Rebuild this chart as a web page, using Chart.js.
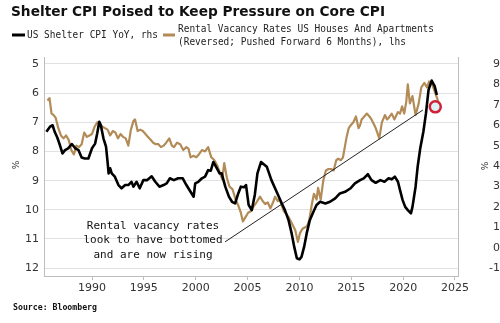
<!DOCTYPE html>
<html>
<head>
<meta charset="utf-8">
<script src="https://cdn.jsdelivr.net/npm/chart.js@4/dist/chart.umd.min.js"></script>
<style>
  body { margin: 0; background: #fff; }
  #wrap { width: 500px; height: 323px; position: relative; }
</style>
</head>
<body>
<div id="wrap"><canvas id="shelterChart"></canvas></div>
<script>
// rental vacancy rate, reversed and pushed forward 6 months (lhs)
const vacancyYears = [
  1985.7, 1985.9, 1986.1, 1986.3, 1986.5, 1986.75, 1987.0, 1987.25, 1987.5, 1987.75,
  1988.0, 1988.25, 1988.5, 1988.75, 1989.0, 1989.25, 1989.5, 1989.75, 1990.0, 1990.25,
  1990.5, 1990.75, 1991.0, 1991.25, 1991.5, 1991.75, 1992.0, 1992.25, 1992.5, 1992.75,
  1993.0, 1993.25, 1993.5, 1993.75, 1994.0, 1994.15, 1994.4, 1994.65, 1994.9, 1995.15,
  1995.4, 1995.65, 1995.9, 1996.15, 1996.4, 1996.65, 1996.9, 1997.15, 1997.45, 1997.7,
  1997.9, 1998.2, 1998.5, 1998.8, 1999.1, 1999.3, 1999.5, 1999.8, 2000.05, 2000.3,
  2000.6, 2000.9, 2001.2, 2001.5, 2001.8, 2002.1, 2002.35, 2002.55, 2002.75, 2003.0,
  2003.25, 2003.55, 2003.85, 2004.1, 2004.35, 2004.55, 2004.8, 2005.05, 2005.3, 2005.55,
  2005.85, 2006.2, 2006.45, 2006.7, 2006.95, 2007.2, 2007.45, 2007.65, 2007.9, 2008.1,
  2008.3, 2008.5, 2008.75, 2008.95, 2009.25, 2009.6, 2009.85, 2010.05, 2010.3, 2010.55,
  2010.75, 2010.95, 2011.2, 2011.4, 2011.65, 2011.8, 2012.05, 2012.3, 2012.55, 2012.8,
  2013.05, 2013.3, 2013.55, 2013.75, 2014.0, 2014.2, 2014.4, 2014.55, 2014.75, 2014.95,
  2015.2, 2015.45, 2015.7, 2015.85, 2016.0, 2016.25, 2016.5, 2016.75, 2016.95, 2017.3,
  2017.55, 2017.7, 2017.95, 2018.25, 2018.45, 2018.6, 2018.9, 2019.15, 2019.5, 2019.7,
  2019.9, 2020.1, 2020.3, 2020.45, 2020.65, 2020.9, 2021.2, 2021.5, 2021.75, 2022.05,
  2022.3, 2022.5, 2022.8, 2023.1, 2023.3, 2023.5
];
const vacancyRates = [
  6.25, 6.17, 6.7, 6.75, 6.85, 7.2, 7.45, 7.55, 7.45, 7.6,
  7.95, 8.1, 7.8, 7.85, 7.75, 7.35, 7.5, 7.45, 7.4, 7.15,
  7.0, 7.05, 7.15, 7.2, 7.25, 7.45, 7.3, 7.35, 7.55, 7.4,
  7.5, 7.55, 7.8, 7.25, 6.95, 6.9, 7.3, 7.25, 7.3, 7.4,
  7.5, 7.6, 7.7, 7.75, 7.75, 7.85, 7.8, 7.7, 7.55, 7.8,
  7.85, 7.7, 7.75, 7.95, 7.85, 7.9, 8.2, 8.15, 8.2, 8.1,
  7.95, 8.0, 7.85, 8.2, 8.3, 8.5, 8.75, 8.95, 8.4, 8.9,
  9.2, 9.3, 9.65, 9.85, 10.1, 10.4, 10.25, 10.1, 10.05, 9.9,
  9.75, 9.55, 9.7, 9.8, 9.75, 9.95, 9.75, 9.55, 9.7, 9.65,
  9.85, 10.05, 10.15, 10.25, 10.45, 10.7, 11.1, 10.8, 10.65, 10.6,
  10.55, 10.35, 9.8, 9.45, 9.65, 9.25, 9.65, 9.0, 8.65, 8.6,
  8.6, 8.65, 8.3, 8.25, 8.3, 8.2, 7.8, 7.5, 7.2, 7.1,
  7.0, 6.8, 7.2, 7.1, 6.9, 6.8, 6.7, 6.8, 6.9, 7.15,
  7.4, 7.55, 7.0, 6.75, 6.9, 6.85, 6.7, 6.9, 6.65, 6.7,
  6.45, 6.7, 6.3, 5.7, 6.35, 6.1, 6.75, 6.35, 5.8, 5.65,
  5.8, 5.6, 5.7, 6.0, 6.2, 6.45
];

// US shelter CPI, year over year % (rhs)
const shelterYears = [
  1985.6, 1985.95, 1986.2, 1986.4, 1986.65, 1986.9, 1987.15, 1987.4, 1987.7, 1988.05,
  1988.4, 1988.7, 1989.0, 1989.3, 1989.65, 1990.0, 1990.3, 1990.5, 1990.7, 1990.85,
  1991.1, 1991.35, 1991.5, 1991.6, 1991.75, 1991.9, 1992.2, 1992.55, 1992.85, 1993.2,
  1993.5, 1993.8, 1994.0, 1994.3, 1994.6, 1994.95, 1995.3, 1995.75, 1996.1, 1996.5,
  1996.9, 1997.2, 1997.5, 1997.9, 1998.3, 1998.75, 1999.1, 1999.5, 1999.8, 1999.95,
  2000.25, 2000.6, 2000.9, 2001.2, 2001.45, 2001.7, 2001.95, 2002.3, 2002.5, 2002.85,
  2003.2, 2003.5, 2003.8, 2004.1, 2004.35, 2004.65, 2004.85, 2005.1, 2005.4, 2005.7,
  2005.95, 2006.3, 2006.85, 2007.3, 2007.8, 2008.3, 2008.6, 2008.95, 2009.25, 2009.5,
  2009.75, 2010.0, 2010.2, 2010.45, 2010.7, 2011.0, 2011.35, 2011.65, 2012.0, 2012.5,
  2012.95, 2013.45, 2013.9, 2014.4, 2014.9, 2015.35, 2015.85, 2016.2, 2016.6, 2016.95,
  2017.35, 2017.8, 2018.2, 2018.6, 2018.9, 2019.2, 2019.5, 2019.7, 2019.95, 2020.2,
  2020.45, 2020.75, 2020.9, 2021.2, 2021.4, 2021.65, 2021.95, 2022.2, 2022.45, 2022.75,
  2023.05, 2023.25
];
const shelterInflation = [
  5.68, 5.93, 6.0, 5.68, 5.4, 5.03, 4.62, 4.78, 4.87, 5.08,
  4.87, 4.78, 4.42, 4.37, 4.37, 4.87, 5.1, 5.6, 6.17, 6.0,
  5.36, 4.95, 4.2, 3.64, 3.89, 3.64, 3.48, 3.07, 2.91, 3.07,
  3.07, 3.23, 2.99, 3.23, 2.91, 3.31, 3.31, 3.5, 3.23, 2.99,
  3.07, 3.15, 3.4, 3.31, 3.4, 3.4, 3.07, 2.74, 2.5, 3.15,
  3.23, 3.4, 3.48, 3.8, 3.77, 4.2, 3.97, 3.64, 3.64, 2.99,
  2.5, 2.25, 2.17, 2.66, 2.99, 2.96, 3.07, 2.1, 1.84, 2.6,
  3.64, 4.2, 3.97, 3.31, 2.74, 2.17, 1.84, 1.35, 0.7, 0.04,
  -0.52, -0.57, -0.45, 0.04, 0.7, 1.35, 1.76, 2.09, 2.25, 2.17,
  2.25, 2.42, 2.66, 2.74, 2.9, 3.15, 3.31, 3.4, 3.6, 3.31,
  3.18, 3.31, 3.23, 3.4, 3.35, 3.48, 3.23, 2.82, 2.33, 2.0,
  1.84, 1.68, 2.0, 2.99, 3.97, 4.87, 5.68, 6.58, 7.73, 8.19,
  7.9, 7.48
];

// hand-drawn trend line across the vacancy troughs (lhs units)
const trendYears = [2002.83, 2021.9];
const trendRates = [11.1, 6.58];

// latest vacancy reading, circled
const markerYear = [2023.1];
const markerRate = [6.47];

const yearTicks = [1990, 1995, 2000, 2005, 2010, 2015, 2020, 2025];
const vacancyTicks = [5, 6, 7, 8, 9, 10, 11, 12];
const shelterTicks = [-1, 0, 1, 2, 3, 4, 5, 6, 7, 8, 9];

const toPoints = (xs, ys) => xs.map((x, i) => ({ x: x, y: ys[i] }));

const TAN = "#b28b57";
const AXIS = "#bdbdbd";
const TICK_FONT = { family: "'DejaVu Sans', Verdana, sans-serif", size: 11 };

const textPlugin = {
  id: "chartText",
  afterDraw(chart) {
    const ctx = chart.ctx;
    ctx.save();
    ctx.fillStyle = "#111";
    ctx.textBaseline = "middle";

    // headline
    ctx.font = "bold 14px 'DejaVu Sans', Verdana, sans-serif";
    ctx.textAlign = "left";
    ctx.fillText("Shelter CPI Poised to Keep Pressure on Core CPI", 11, 12, 374);

    // legend
    ctx.lineWidth = 3;
    ctx.strokeStyle = "#000";
    ctx.beginPath(); ctx.moveTo(12, 35); ctx.lineTo(25, 35); ctx.stroke();
    ctx.strokeStyle = TAN;
    ctx.beginPath(); ctx.moveTo(163, 35); ctx.lineTo(175, 35); ctx.stroke();
    ctx.font = "10.5px 'DejaVu Sans Mono', monospace";
    ctx.fillStyle = "#222";
    ctx.fillText("US Shelter CPI YoY, rhs", 27, 35, 131);
    ctx.fillText("Rental Vacancy Rates US Houses And Apartments", 178, 29, 256);
    ctx.fillText("(Reversed; Pushed Forward 6 Months), lhs", 178, 42, 228);

    // callout
    ctx.font = "11px 'DejaVu Sans Mono', monospace";
    ctx.textAlign = "center";
    ctx.fillStyle = "#111";
    ctx.fillText("Rental vacancy rates", 153, 226);
    ctx.fillText("look to have bottomed", 153, 240.5);
    ctx.fillText("and are now rising", 153, 255);

    // unit labels beside each axis
    ctx.font = "9px 'DejaVu Sans', sans-serif";
    ctx.fillStyle = "#333";
    [[17, 165], [486, 166]].forEach(([x, y]) => {
      ctx.save();
      ctx.translate(x, y);
      ctx.rotate(-Math.PI / 2);
      ctx.fillText("%", 0, 0);
      ctx.restore();
    });

    // footnote
    ctx.font = "bold 9px 'DejaVu Sans Mono', monospace";
    ctx.textAlign = "left";
    ctx.fillStyle = "#111";
    ctx.fillText("Source: Bloomberg", 13, 308, 84);
    ctx.restore();
  },
};

new Chart(document.getElementById("shelterChart"), {
  type: "line",
  data: {
    datasets: [
      {
        label: "Latest",
        data: toPoints(markerYear, markerRate),
        yAxisID: "y",
        showLine: false,
        pointRadius: 5.5,
        pointBackgroundColor: "#dcf1f1",
        pointBorderColor: "#d0203a",
        pointBorderWidth: 2.5,
        order: 0,
      },
      {
        label: "US Shelter CPI YoY, rhs",
        data: toPoints(shelterYears, shelterInflation),
        yAxisID: "y1",
        borderColor: "#000",
        borderWidth: 2.6,
        pointRadius: 0,
        borderJoinStyle: "round",
        order: 1,
      },
      {
        label: "Trend",
        data: toPoints(trendYears, trendRates),
        yAxisID: "y",
        borderColor: "#222",
        borderWidth: 1,
        pointRadius: 0,
        order: 2,
      },
      {
        label: "Rental Vacancy Rates (Reversed), lhs",
        data: toPoints(vacancyYears, vacancyRates),
        yAxisID: "y",
        borderColor: TAN,
        borderWidth: 2.2,
        pointRadius: 0,
        borderJoinStyle: "round",
        order: 3,
      },
    ],
  },
  options: {
    responsive: true,
    maintainAspectRatio: false,
    animation: false,
    layout: { padding: { top: 57, left: 0, right: 0, bottom: 0 } },
    plugins: {
      legend: { display: false },
      tooltip: { enabled: false },
    },
    scales: {
      x: {
        type: "linear",
        min: 1985.37,
        max: 2025.29,
        afterBuildTicks: (scale) => { scale.ticks = yearTicks.map((v) => ({ value: v })); },
        afterFit: (scale) => { scale.height = 47; },
        grid: { drawOnChartArea: false, tickLength: 4, color: AXIS },
        border: { color: AXIS },
        ticks: {
          color: "#333",
          font: TICK_FONT,
          padding: 2,
          maxRotation: 0,
          callback: (v) => String(v),
        },
      },
      y: {
        position: "left",
        reverse: true,
        min: 4.76,
        max: 12.27,
        afterBuildTicks: (scale) => { scale.ticks = vacancyTicks.map((v) => ({ value: v })); },
        afterFit: (scale) => { scale.width = 44; },
        grid: { color: "#e2e2e2", drawTicks: false },
        border: { color: AXIS },
        ticks: { color: "#333", font: TICK_FONT, padding: 5 },
      },
      y1: {
        position: "right",
        min: -1.386,
        max: 9.343,
        afterBuildTicks: (scale) => { scale.ticks = shelterTicks.map((v) => ({ value: v })); },
        afterFit: (scale) => { scale.width = 42; },
        grid: { drawOnChartArea: false, drawTicks: false },
        border: { color: AXIS },
        ticks: { color: "#333", font: TICK_FONT, padding: 7, crossAlign: "far" },
      },
    },
  },
  plugins: [textPlugin],
});
</script>
</body>
</html>
